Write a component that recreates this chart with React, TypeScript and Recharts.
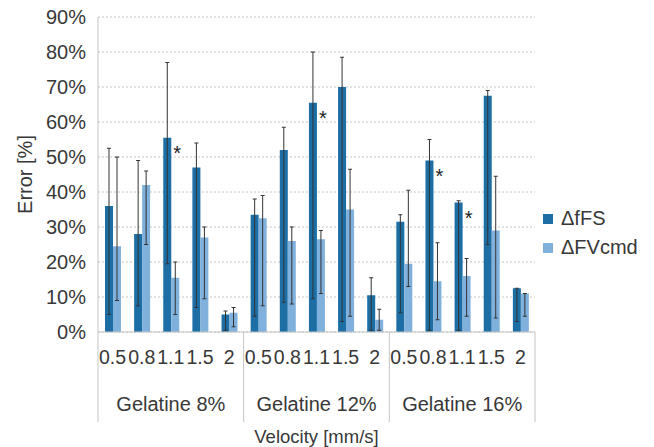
import {
  Bar,
  BarChart,
  CartesianGrid,
  ErrorBar,
  LabelList,
  Legend,
  XAxis,
  YAxis
} from "recharts";

const groups = ["Gelatine 8%", "Gelatine 12%", "Gelatine 16%"];
const velocities = ["0.5", "0.8", "1.1", "1.5", "2"];
const seriesNames = ["ΔfFS", "ΔFVcmd"];
const yTicks = [0, 10, 20, 30, 40, 50, 60, 70, 80, 90];

// ΔfFS: mean with lower/upper error bounds (%)
const fsMean = [36, 28, 55.5, 47, 5, 33.5, 52, 65.5, 70, 10.5, 31.5, 49, 37, 67.5, 12.5];
const fsLow = [5, 7.5, 19.5, 7, 0.5, 4.5, 8.5, 9.5, 3, 0.5, 5.5, 0.5, 0.5, 25, 3];
const fsHigh = [52.5, 49, 77, 54, 6, 38, 58.5, 80, 78.5, 15.5, 33.5, 55, 37.5, 69, 12.5];

// ΔFVcmd
const fvMean = [24.5, 42, 15.5, 27, 5.5, 32.5, 26, 26.5, 35, 3.5, 19.5, 14.5, 16, 29, 11];
const fvLow = [9, 25, 5, 9.5, 1.5, 7.5, 8, 11, 4.5, 0.5, 13, 3.5, 4.5, 4, 4.5];
const fvHigh = [50, 46, 20, 30, 7, 39, 30, 29, 46.5, 6.5, 40.5, 25.5, 21, 44.5, 11];

// significance markers on ΔfFS
const stars = [false, false, true, false, false, false, false, true, false, false, false, true, true, false, false];

const DARK = "#1c6ea5";
const LIGHT = "#80b0dc";
const TEXT = "#383838";
const LINE = "#c4c4c4";
const HALF_BAND = 437 / 15 / 2;

const data = fsMean.map((fs, i) => ({
  vel: velocities[i % 5],
  group: groups[Math.floor(i / 5)],
  fs,
  fsErr: [fs - fsLow[i], fsHigh[i] - fs],
  fv: fvMean[i],
  fvErr: [fvMean[i] - fvLow[i], fvHigh[i] - fvMean[i]],
  star: stars[i]
}));

function GroupTick(props: any) {
  const { x, y, payload } = props;
  const idx = payload.index;
  return (
    <g>
      {idx % 5 === 0 && (
        <line x1={x - HALF_BAND} x2={x - HALF_BAND} y1={y - 48} y2={y + 42} stroke={LINE} />
      )}
      {idx === 14 && (
        <line x1={x + HALF_BAND} x2={x + HALF_BAND} y1={y - 48} y2={y + 42} stroke={LINE} />
      )}
      {idx % 5 === 2 && (
        <text x={x} y={y + 31} textAnchor="middle" fontSize={20} fill={TEXT}>
          {payload.value}
        </text>
      )}
    </g>
  );
}

function Star(props: any) {
  const { x, y, width, value } = props;
  if (!value) return null;
  return (
    <text x={x + width + 6} y={y + 22} textAnchor="middle" fontSize={20} fill="#222">
      *
    </text>
  );
}

function LegendBox(props: any) {
  const items = [...(props.payload ?? [])].sort(
    (a: any, b: any) => seriesNames.indexOf(a.value) - seriesNames.indexOf(b.value)
  );
  return (
    <div>
      {items.map((p: any) => (
        <div
          key={p.value}
          style={{ display: "flex", alignItems: "center", height: 29, fontSize: 20, color: TEXT }}
        >
          <span style={{ width: 10, height: 10, background: p.color, marginRight: 8 }} />
          {p.value}
        </div>
      ))}
    </div>
  );
}

export default function App() {
  return (
    <div
      style={{
        position: "absolute",
        left: 0,
        top: 0,
        width: 654,
        height: 447,
        background: "#fff",
        fontFamily: "'Liberation Sans', Arial, sans-serif"
      }}
    >
      <BarChart
        width={654}
        height={447}
        data={data}
        margin={{ top: 17, right: 119, bottom: 0, left: 0 }}
        barGap={0}
      >
        <CartesianGrid vertical={false} strokeDasharray="2 2" stroke={LINE} />
        <XAxis
          dataKey="vel"
          interval={0}
          height={48}
          tickLine={false}
          tickSize={6}
          tickMargin={12}
          axisLine={{ stroke: LINE }}
          tick={{ fontSize: 19.5, fill: TEXT }}
        />
        <XAxis
          xAxisId="g"
          dataKey="group"
          interval={0}
          height={67}
          tickLine={false}
          tickSize={0}
          tickMargin={0}
          axisLine={false}
          tick={<GroupTick />}
          label={(lp: any) => {
            const vb = lp.viewBox;
            return (
              <text x={vb.x + vb.width / 2} y={vb.y + 63} textAnchor="middle" fontSize={18.5} fill={TEXT}>
                Velocity [mm/s]
              </text>
            );
          }}
        />
        <YAxis
          width={98}
          domain={[0, 90]}
          ticks={yTicks}
          interval={0}
          tickFormatter={(v: number) => `${v}%`}
          tickLine={false}
          tickMargin={6}
          axisLine={{ stroke: LINE }}
          tick={{ fontSize: 20, fill: TEXT }}
          label={(lp: any) => {
            const vb = lp.viewBox;
            const cx = vb.x + 25;
            const cy = vb.y + vb.height / 2;
            return (
              <text
                x={cx}
                y={cy}
                transform={`rotate(-90 ${cx} ${cy})`}
                textAnchor="middle"
                dominantBaseline="central"
                fontSize={20}
                fill={TEXT}
              >
                Error [%]
              </text>
            );
          }}
        />
        <Legend
          layout="vertical"
          align="center"
          verticalAlign="middle"
          content={<LegendBox />}
          wrapperStyle={{ left: 543, top: 204, width: "auto" }}
        />
        <Bar dataKey="fs" name="ΔfFS" fill={DARK} barSize={8} isAnimationActive={false}>
          <ErrorBar dataKey="fsErr" width={2} strokeWidth={1} stroke="#333" />
          <LabelList dataKey="star" content={<Star />} />
        </Bar>
        <Bar dataKey="fv" name="ΔFVcmd" fill={LIGHT} barSize={8} isAnimationActive={false}>
          <ErrorBar dataKey="fvErr" width={2} strokeWidth={1} stroke="#333" />
        </Bar>
      </BarChart>
    </div>
  );
}
